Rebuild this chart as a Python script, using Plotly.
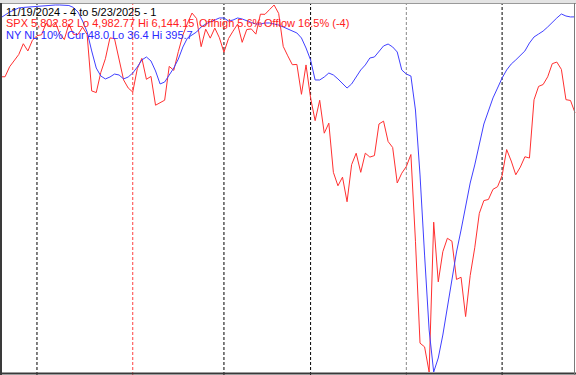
import pandas as pd
import plotly.graph_objects as go

# ---- data ----
holidays = ["2024-11-28", "2024-12-25", "2025-01-01", "2025-01-09",
            "2025-01-20", "2025-02-17", "2025-04-18"]
dates = [d for d in pd.bdate_range("2024-11-19", "2025-05-23")
         if d.strftime("%Y-%m-%d") not in holidays]

spx = [
    5916.98, 5917.11, 5948.71, 5969.34, 5987.37, 6021.63, 5998.74, 6032.38,
    6047.15, 6049.88, 6086.49, 6075.11, 6090.27, 6052.85, 6034.91, 6084.19,
    6051.25, 6051.09, 6074.08, 6050.61, 5872.16, 5867.08, 5930.85, 5974.07,
    6040.04, 6037.59, 5970.84, 5906.94, 5881.63,
    5868.55, 5942.47, 5975.38, 5909.03, 5918.25, 5827.04, 5836.22, 5842.91,
    5949.91, 5937.34, 5996.66, 6049.24, 6086.37, 6118.71, 6101.24, 6012.28,
    6067.70, 6039.31, 6071.17, 6040.53,
    5994.57, 6037.88, 6061.48, 6083.57, 6025.99, 6066.44, 6068.50, 6051.97,
    6115.07, 6114.63, 6129.58, 6144.15, 6117.52, 6013.13, 5983.25, 5955.25,
    5956.06, 5861.57, 5954.50,
    5849.72, 5778.15, 5842.63, 5738.52, 5770.20, 5614.56, 5572.07, 5599.30,
    5521.52, 5638.94, 5675.12, 5614.66, 5675.29, 5662.89, 5667.56, 5767.57,
    5776.65, 5712.20, 5693.31, 5580.94, 5611.85,
    5633.07, 5670.97, 5396.52, 5074.08, 5062.25, 4982.77, 5456.90, 5268.05,
    5363.36, 5405.97, 5396.63, 5275.70, 5282.70, 5158.20, 5287.76, 5375.86,
    5484.77, 5525.21, 5528.75, 5560.83, 5569.06,
    5604.14, 5686.67, 5650.38, 5606.91, 5631.28, 5663.94, 5659.91, 5844.19,
    5886.55, 5892.58, 5916.93, 5958.38, 5963.60, 5940.46, 5844.61, 5842.01,
    5802.82,
]

nl10 = [
    49.1, 46.2, 43.3, 41.3, 39.3, 38.8, 38.4, 37.9, 37.4, 37.4, 36.9, 36.4,
    36.4, 36.4, 36.4, 36.9, 38.8, 43.3, 52.1, 62.8, 81.4, 98.1, 105.9, 108.8,
    106.9, 104.0, 104.9, 108.8, 106.9, 103.0, 97.1, 90.2, 87.3, 91.2, 101.0,
    113.7, 111.8, 104.9, 98.1, 89.3, 77.5, 68.7, 65.8, 62.8, 57.9, 55.0, 53.0,
    51.1, 49.1, 49.1, 52.1, 51.1, 49.1, 50.1, 52.1, 53.5, 55.0, 55.0, 54.0,
    54.0, 55.0, 56.0, 57.9, 59.9, 61.9, 63.8, 68.7, 78.5, 90.2, 109.8, 109.8,
    106.9, 103.0, 104.9, 108.8, 113.7, 117.7, 113.7, 106.9, 100.0, 95.1, 88.3,
    87.3, 81.4, 76.5, 74.6, 77.5, 82.4, 100.0, 104.0, 105.9, 139.2, 202.8,
    281.2, 354.6, 395.7, 382.0, 359.5, 333.0, 308.6, 278.2, 256.7, 234.2,
    210.7, 193.0, 171.5, 152.9, 140.2, 127.4, 117.7, 107.9, 100.0, 94.2, 90.2,
    85.3, 81.4, 73.6, 67.7, 64.8, 61.9, 57.9, 53.0, 49.1, 45.2, 47.2, 48.1,
    48.0,
]

# header text, one list of segments per line
title_segments = [
    ["11/19/2024 - 4 to 5/23/2025 - 1"],
    ["SPX 5,802.82 Lo 4,982.77 Hi 6,144.15", "Offhigh 5.6%", "Offlow 16.5% (-4)"],
    ["NY NL 10%", "Cur 48.0", "Lo 36.4 Hi 395.7"],
]
title_colors = ["#000000", "#ff2020", "#2a2aff"]
month_line_colors = ["#000000", "#ff4040", "#000000", "#000000", "#8a8a8a", "#000000"]

# ---- layout constants ----
W, H = 576, 375
segment_x_px = [[4], [4, 197, 262], [4, 65, 110]]
line_y_px = [12, 23.5, 35]

idx = list(range(len(dates)))

fig = go.Figure()
fig.add_trace(go.Scatter(x=idx, y=spx, mode="lines",
                         line=dict(color="#ff3030", width=1),
                         hoverinfo="skip", yaxis="y"))
fig.add_trace(go.Scatter(x=idx, y=nl10, mode="lines",
                         line=dict(color="#4040ff", width=1),
                         hoverinfo="skip", yaxis="y2"))

# month boundary lines
month_starts = [i for i in range(1, len(dates))
                if dates[i].month != dates[i - 1].month]
shapes = []
for k, i in enumerate(month_starts):
    shapes.append(dict(type="line", xref="x", yref="paper", x0=i, x1=i,
                       y0=0, y1=1 - 4 / H, layer="below",
                       line=dict(color=month_line_colors[k % len(month_line_colors)],
                                 width=1, dash="3px,2px")))

# frame
shapes += [
    dict(type="rect", xref="paper", yref="paper", x0=0, x1=1, y0=1 - 3 / H, y1=1,
         fillcolor="#e4e4e4", line=dict(width=0), layer="above"),
    dict(type="line", xref="paper", yref="paper", x0=0, x1=1,
         y0=1 - 3.5 / H, y1=1 - 3.5 / H, line=dict(color="#9a9a9a", width=1), layer="above"),
    dict(type="line", xref="paper", yref="paper", x0=1 / W, x1=1 / W,
         y0=0, y1=1 - 3 / H, line=dict(color="#3a3a3a", width=2), layer="above"),
    dict(type="line", xref="paper", yref="paper", x0=0, x1=1,
         y0=1.5 / H, y1=1.5 / H, line=dict(color="#3a3a3a", width=2), layer="above"),
    dict(type="line", xref="paper", yref="paper", x0=1 - 1.5 / W, x1=1 - 1.5 / W,
         y0=0, y1=1 - 3 / H, line=dict(color="#7a7a7a", width=1), layer="above"),
]

annotations = []
for segs, xs, ypx, c in zip(title_segments, segment_x_px, line_y_px, title_colors):
    for t, xpx in zip(segs, xs):
        annotations.append(dict(text=t, xref="paper", yref="paper",
                                x=xpx / W, y=1 - ypx / H,
                                xanchor="left", yanchor="middle",
                                showarrow=False,
                                font=dict(family="Liberation Sans, Arial, sans-serif",
                                          size=11, color=c)))

# scale ranges so that series extremes sit inside the frame
spx_hi, spx_lo = max(spx), min(spx)
nl_hi, nl_lo = max(nl10), min(nl10)
top_px, bot_px = 5.0, 372.0
k_spx = (spx_hi - spx_lo) / (bot_px - top_px)
k_nl = (nl_hi - nl_lo) / (bot_px - top_px)
spx_range = [spx_lo - (H - bot_px) * k_spx, spx_hi + top_px * k_spx]
nl_range = [nl_hi + (H - bot_px) * k_nl, nl_lo - top_px * k_nl]  # reversed

px_per_day = 4.56
x_range = [-0.5 / px_per_day, -0.5 / px_per_day + W / px_per_day]

fig.update_layout(
    width=W, height=H,
    margin=dict(l=0, r=0, t=0, b=0, pad=0),
    paper_bgcolor="white", plot_bgcolor="white",
    showlegend=False,
    xaxis=dict(range=x_range, visible=False, fixedrange=True),
    yaxis=dict(range=spx_range, visible=False, fixedrange=True),
    yaxis2=dict(range=nl_range, visible=False, overlaying="y", fixedrange=True),
    shapes=shapes,
    annotations=annotations,
)

fig.write_html("out.html", config={"displayModeBar": False})
